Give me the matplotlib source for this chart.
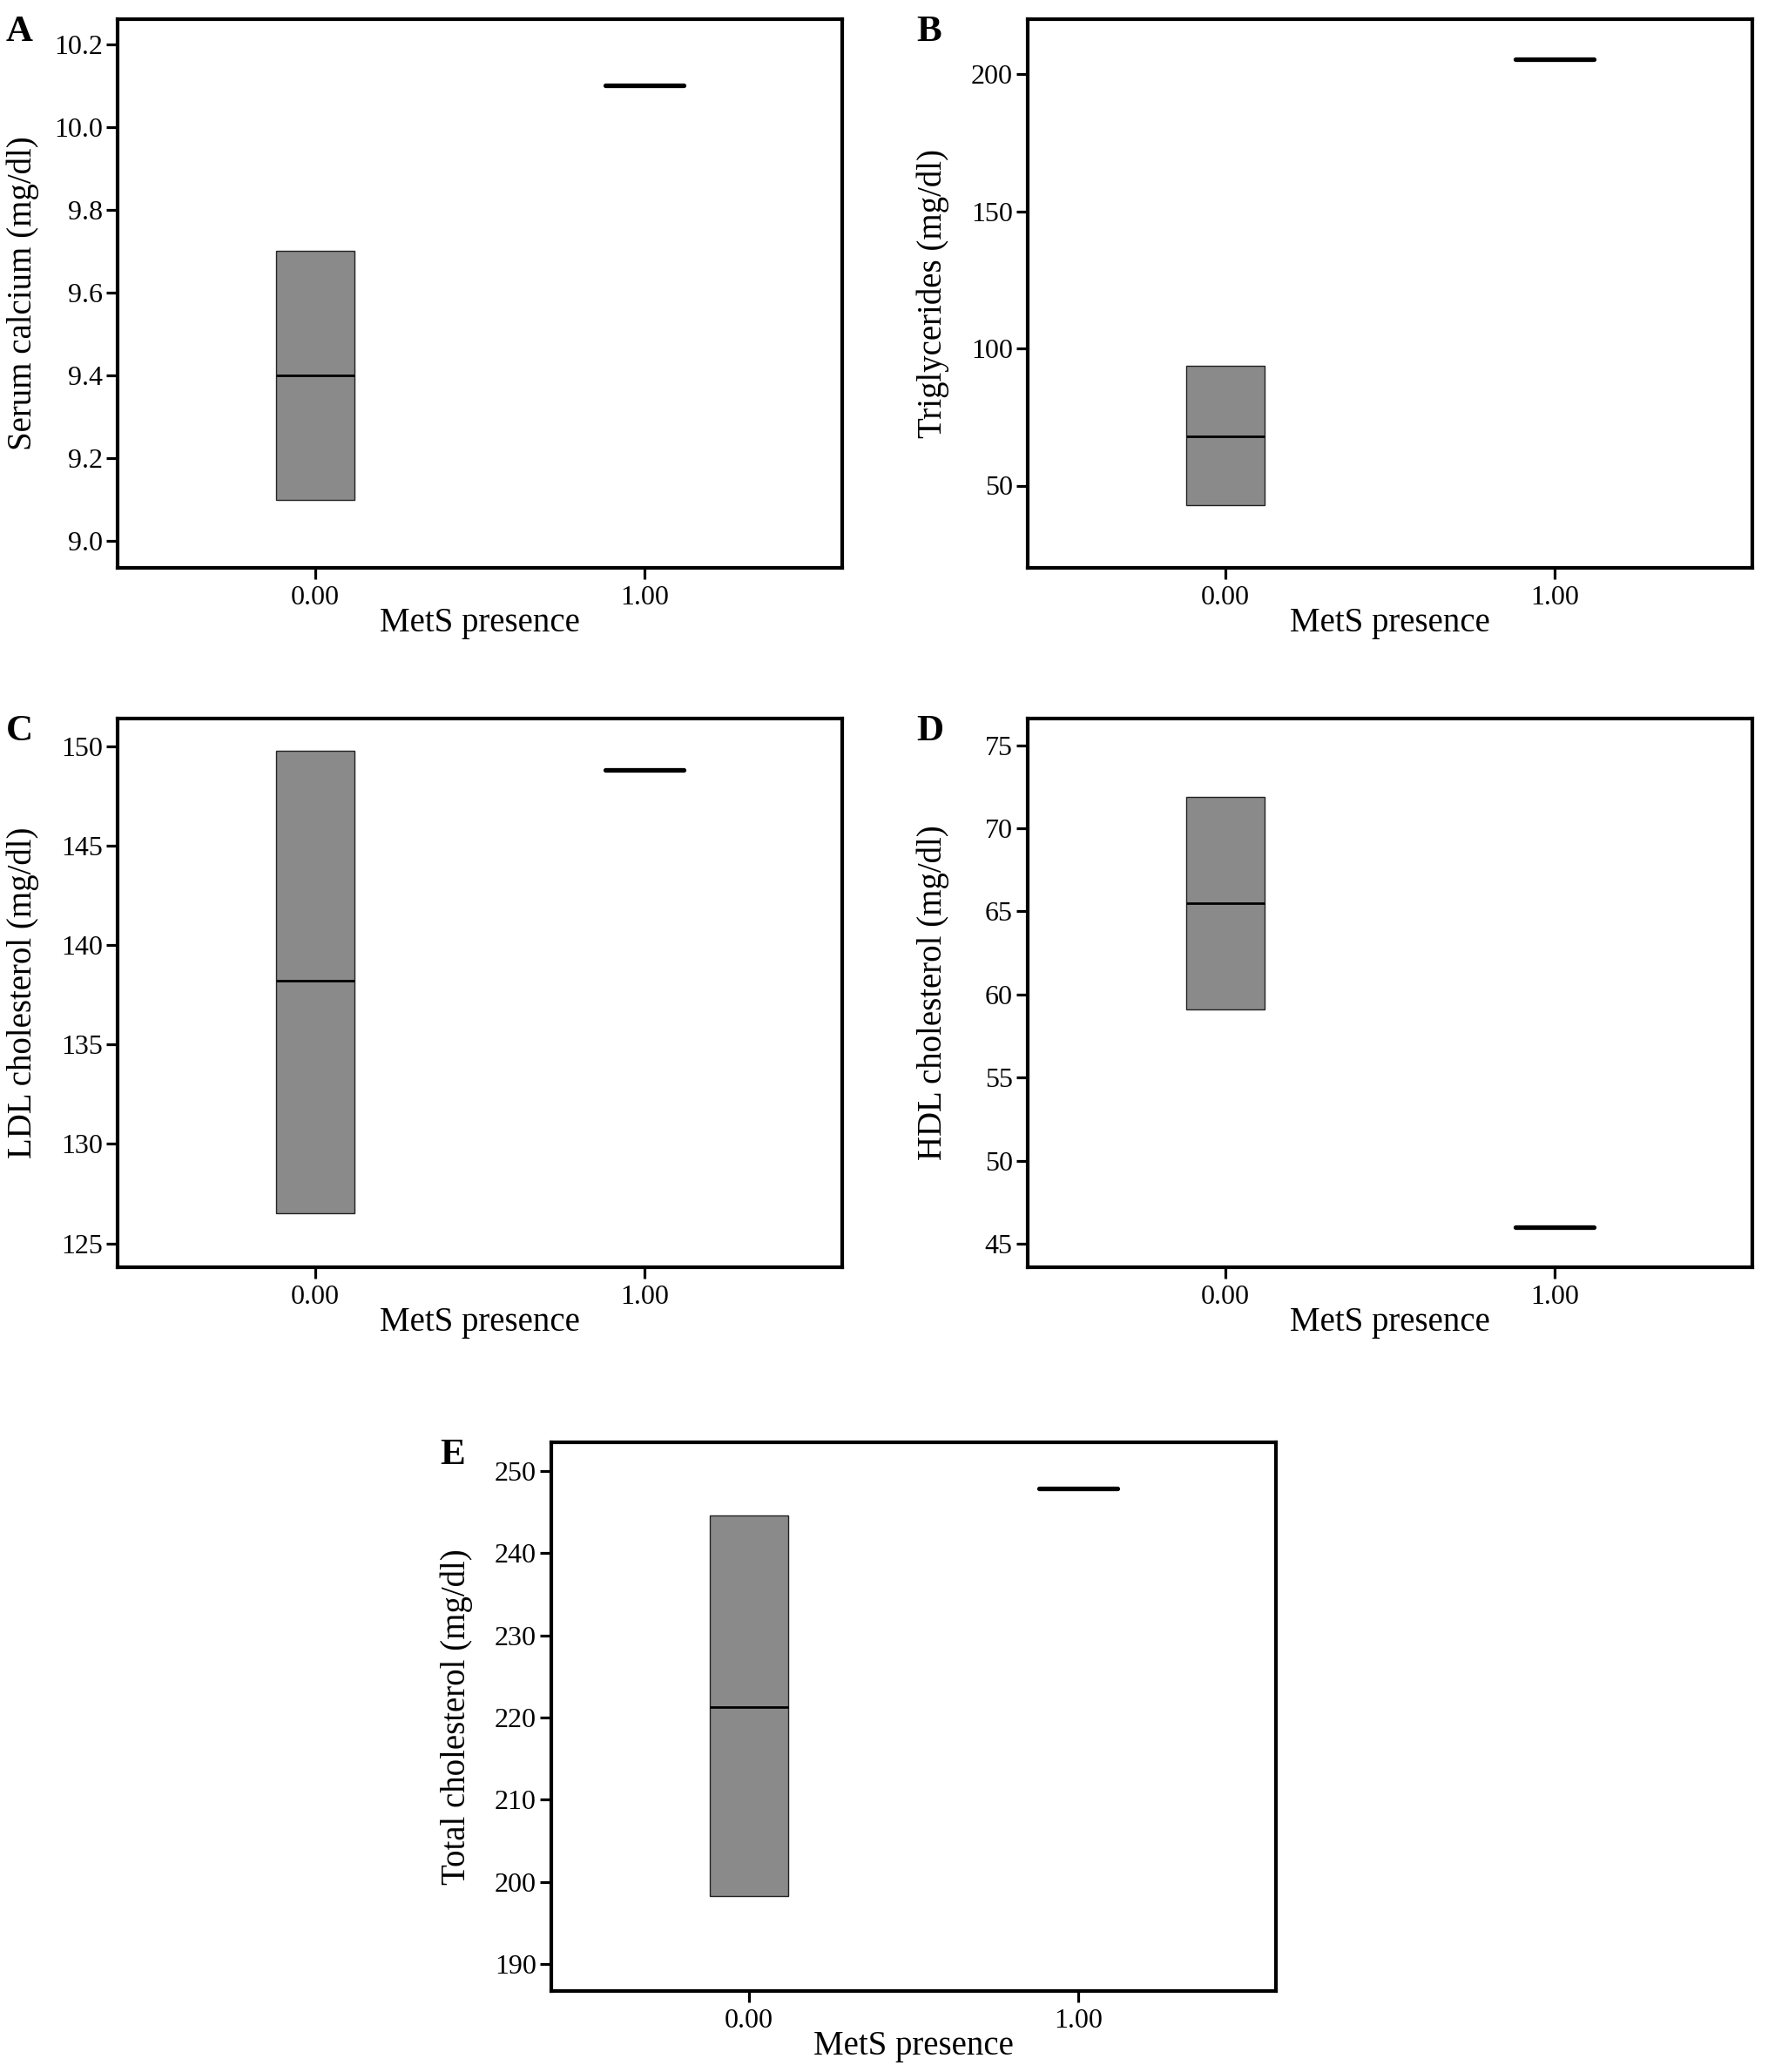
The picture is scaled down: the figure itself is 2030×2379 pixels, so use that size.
import numpy as np
import matplotlib
matplotlib.use("Agg")
import matplotlib.pyplot as plt

plt.rcParams['font.family'] = ['Liberation Serif', 'DejaVu Serif']

# groupes (MetS absent / present)
groups = [0, 1]
group_labels = ['0.00', '1.00']

# valeurs : quartile 1, mediane, quartile 3
calcium_q1 = [9.1, 10.1]
calcium_med = [9.4, 10.1]
calcium_q3 = [9.7, 10.1]

tg_q1 = [42.8, 205.4]
tg_med = [68.0, 205.4]
tg_q3 = [93.5, 205.4]

ldl_q1 = [126.5, 148.8]
ldl_med = [138.2, 148.8]
ldl_q3 = [149.8, 148.8]

hdl_q1 = [59.1, 46.0]
hdl_med = [65.5, 46.0]
hdl_q3 = [71.9, 46.0]

tc_q1 = [198.3, 247.9]
tc_med = [221.3, 247.9]
tc_q3 = [244.6, 247.9]

letters = ['A', 'B', 'C', 'D', 'E']
ylabels = ['Serum calcium (mg/dl)', 'Triglycerides (mg/dl)', 'LDL cholesterol (mg/dl)',
           'HDL cholesterol (mg/dl)', 'Total cholesterol (mg/dl)']
xlabel = 'MetS presence'

yticks_list = [np.arange(9.0, 10.21, 0.2), [50, 100, 150, 200], np.arange(125, 151, 5),
               np.arange(45, 76, 5), np.arange(190, 251, 10)]
ylims = [(8.935, 10.26), (20, 220), (123.8, 151.4), (43.6, 76.6), (186.7, 253.5)]
yfmt = ['%.1f', '%d', '%d', '%d', '%d']

q1s = [calcium_q1, tg_q1, ldl_q1, hdl_q1, tc_q1]
meds = [calcium_med, tg_med, ldl_med, hdl_med, tc_med]
q3s = [calcium_q3, tg_q3, ldl_q3, hdl_q3, tc_q3]

W, H = 2031, 2379
fig = plt.figure(figsize=(W / 100, H / 100), dpi=100)

# positions des axes en pixels : gauche, haut (largeur et hauteur communes)
boxes_px = [(135, 22), (1180, 22), (135, 825), (1180, 825), (633, 1656)]
aw, ah = 832, 630

for i in range(5):
    left, top = boxes_px[i]
    ax = fig.add_axes([left / W, 1 - (top + ah) / H, aw / W, ah / H])

    stats = []
    for k in range(len(groups)):
        stats.append(dict(med=meds[i][k], q1=q1s[i][k], q3=q3s[i][k],
                          whislo=q1s[i][k], whishi=q3s[i][k], fliers=[]))
    bp = ax.bxp(stats, positions=groups, widths=0.24, patch_artist=True,
                showcaps=False, showfliers=False,
                boxprops=dict(facecolor='#8a8a8a', edgecolor='#222222', linewidth=1.0),
                medianprops=dict(color='black', linewidth=2.0),
                whiskerprops=dict(linewidth=0))
    # groupe 1 : une seule valeur -> trait epais
    bp['medians'][1].set_linewidth(3.8)
    bp['medians'][1].set_solid_capstyle('round')

    ax.set_xlim(-0.6, 1.6)
    ax.set_ylim(*ylims[i])
    ax.set_xticks(groups)
    ax.set_xticklabels(group_labels)
    ax.set_yticks(yticks_list[i])
    ax.set_yticklabels([yfmt[i] % v for v in yticks_list[i]])

    for sp in ax.spines.values():
        sp.set_linewidth(3.0)
        sp.set_joinstyle('round')
    ax.tick_params(axis='both', direction='out', length=9.5, width=2.3,
                   labelsize=23, pad=3)
    ax.tick_params(axis='x', pad=5)

    ax.set_xlabel(xlabel, fontsize=28, labelpad=-3)
    ax.set_ylabel(ylabels[i], fontsize=28)
    ax.yaxis.set_label_coords(-0.108, 0.5)

    fig.text((left - 128) / W, 1 - (top - 4) / H, letters[i], fontsize=31,
             fontweight='bold', ha='left', va='top')

fig.savefig('out.png', dpi=100, facecolor='white')
